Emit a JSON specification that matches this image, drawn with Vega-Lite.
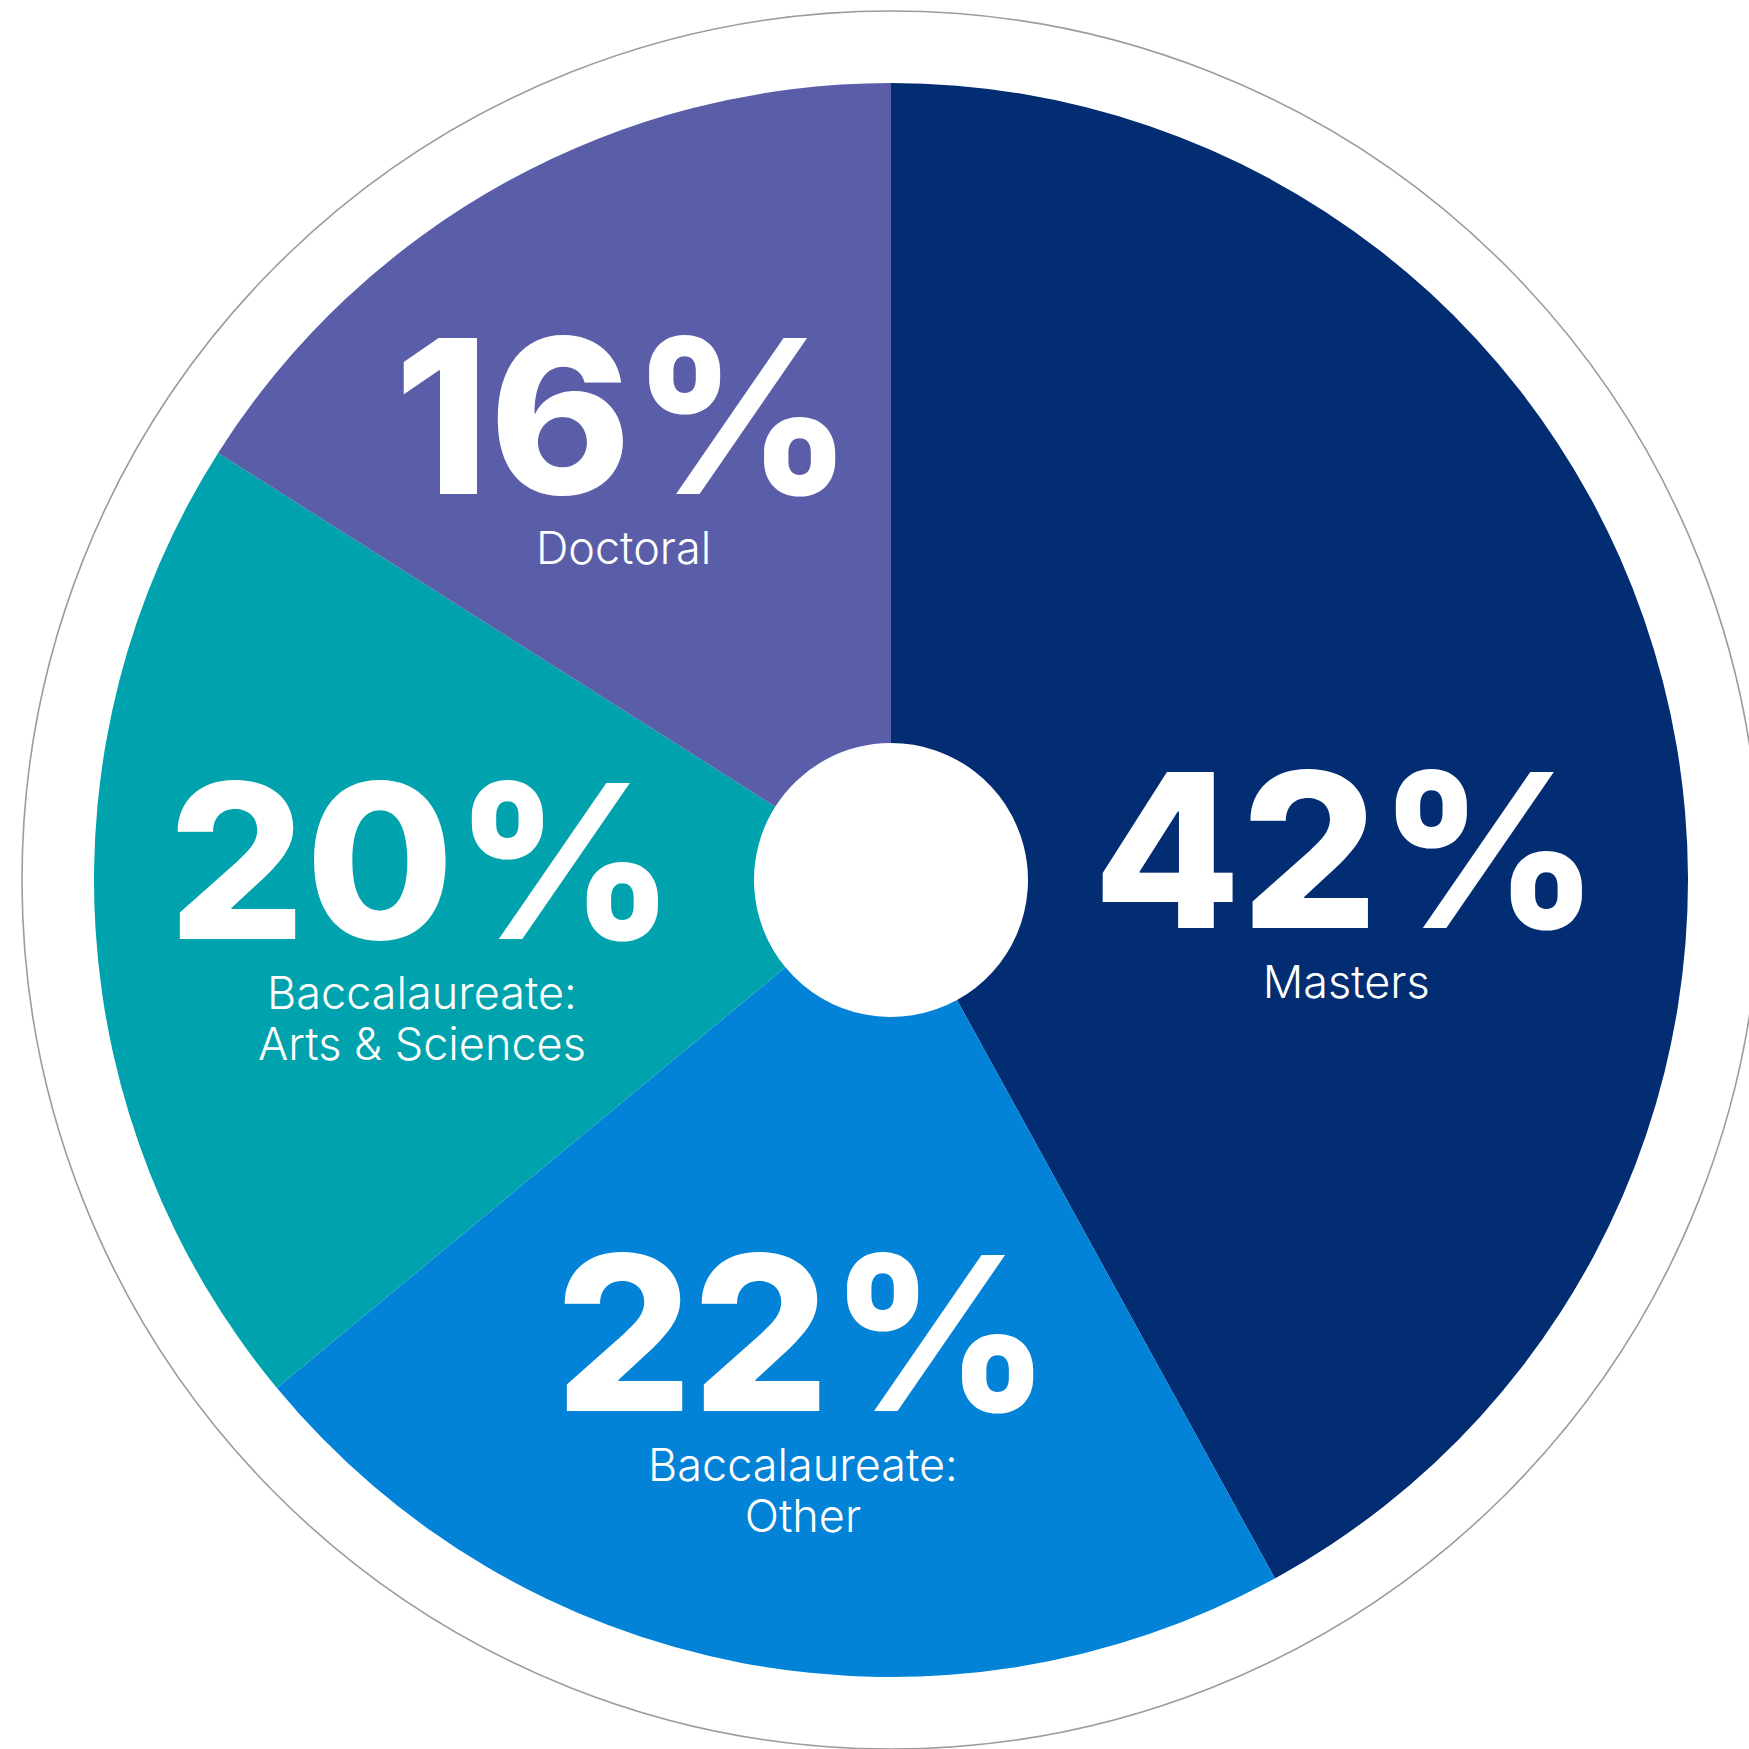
{
  "$schema": "https://vega.github.io/schema/vega-lite/v6.json",
  "width": 1749,
  "height": 1749,
  "autosize": {"type": "fit", "contains": "padding"},
  "padding": {"left": 33, "top": 11, "right": 0, "bottom": 0},
  "background": "white",
  "config": {"view": {"stroke": null}},
  "resolve": {"scale": {"theta": "independent"}},
  "layer": [
    {
      "data": {"values": [{"ring": 1}]},
      "mark": {"type": "arc", "radius": 869, "fill": "white", "stroke": "#9c9c9c", "strokeWidth": 1.6},
      "encoding": {"theta": {"field": "ring", "type": "quantitative"}}
    },
    {
      "data": {"name": "pie", "values": [
        {"category": "Masters", "share": 0.42, "label": "Masters", "order": 1},
        {"category": "Baccalaureate: Other", "share": 0.22, "label": "Baccalaureate:\nOther", "order": 2},
        {"category": "Baccalaureate: Arts & Sciences", "share": 0.20, "label": "Baccalaureate:\nArts & Sciences", "order": 3},
        {"category": "Doctoral", "share": 0.16, "label": "Doctoral", "order": 4}
      ]},
      "encoding": {
        "theta": {"field": "share", "type": "quantitative", "stack": true},
        "order": {"field": "order", "type": "quantitative"}
      },
      "layer": [
        {
          "mark": {"type": "arc", "outerRadius": 797, "innerRadius": 137},
          "encoding": {
            "color": {
              "field": "category",
              "type": "nominal",
              "scale": {
                "domain": ["Masters", "Baccalaureate: Other", "Baccalaureate: Arts & Sciences", "Doctoral"],
                "range": ["#022d73", "#0283d7", "#00a3ad", "#5a5ea8"]
              },
              "legend": null
            }
          }
        },
        {
          "mark": {
            "type": "text", "radius": 470,
            "dx": {"expr": "datum.category === 'Doctoral' ? -41 : 0"},
            "dy": {"expr": "datum.category === 'Masters' ? 100 : datum.category === 'Doctoral' ? -39 : datum.category === 'Baccalaureate: Arts & Sciences' ? -36 : 4"},
            "font": "Inter", "fontWeight": 800, "fontSize": 215, "fill": "white", "align": "center", "baseline": "middle"
          },
          "encoding": {"text": {"field": "share", "type": "quantitative", "format": ".0%"}}
        },
        {
          "mark": {
            "type": "text", "radius": 470,
            "dx": {"expr": "datum.category === 'Doctoral' ? -41 : 0"},
            "dy": {"expr": "135 + (datum.category === 'Masters' ? 100 : datum.category === 'Doctoral' ? -39 : datum.category === 'Baccalaureate: Arts & Sciences' ? -36 : 4)"},
            "font": "Inter", "fontWeight": 300, "fontSize": 45, "lineHeight": 51, "lineBreak": "\n", "fill": "white", "align": "center", "baseline": "alphabetic"
          },
          "encoding": {"text": {"field": "label", "type": "nominal"}}
        }
      ]
    }
  ]
}
